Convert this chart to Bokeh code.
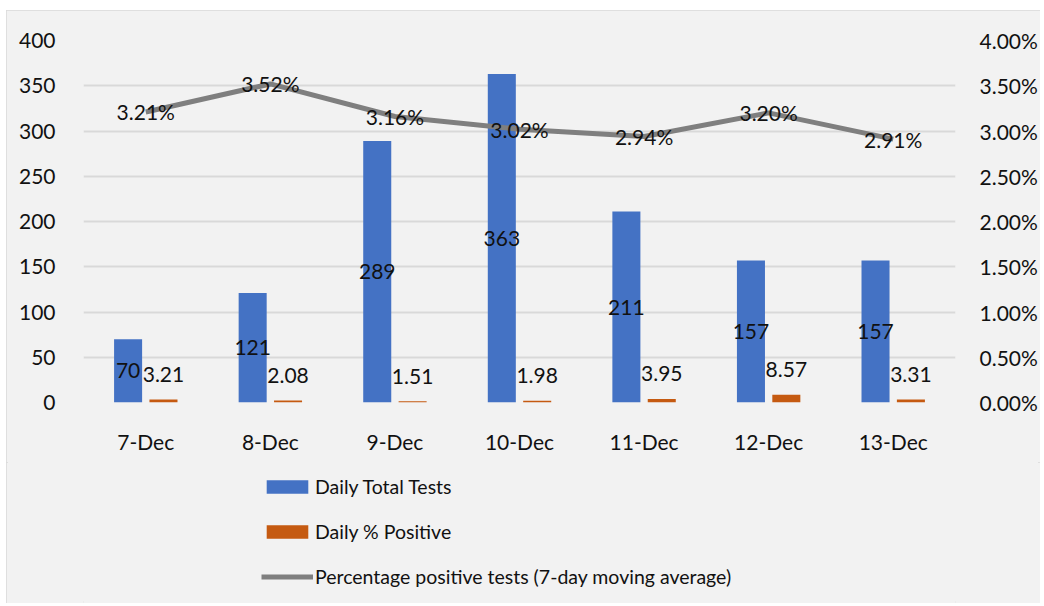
from bokeh.plotting import figure
from bokeh.layouts import column
from bokeh.models import (ColumnDataSource, FactorRange, Range1d, LinearAxis, FixedTicker,
                          PrintfTickFormatter, Legend, LegendItem, LabelSet)
from bokeh.transform import dodge
from bokeh.embed import file_html
from bokeh.resources import INLINE
from bokeh.core.properties import value

dates = ["7-Dec", "8-Dec", "9-Dec", "10-Dec", "11-Dec", "12-Dec", "13-Dec"]
daily_total_tests = [70, 121, 289, 363, 211, 157, 157]
daily_pct_positive = [3.21, 2.08, 1.51, 1.98, 3.95, 8.57, 3.31]
moving_avg_pct = [3.21, 3.52, 3.16, 3.02, 2.94, 3.20, 2.91]
left_ticks = [0, 50, 100, 150, 200, 250, 300, 350, 400]
right_ticks = [0.0, 0.5, 1.0, 1.5, 2.0, 2.5, 3.0, 3.5, 4.0]
series_names = ["Daily Total Tests", "Daily % Positive",
                "Percentage positive tests (7-day moving average)"]

FONT = "Lato"
FS = "21px"
TXT = "#111111"
BG = "#F2F2F2"
BLUE, ORANGE, GREY = "#4472C4", "#C55A11", "#7F7F7F"

src = ColumnDataSource(dict(
    date=dates,
    tests=daily_total_tests,
    tests_mid=[v / 2 for v in daily_total_tests],
    tests_lbl=[str(v) for v in daily_total_tests],
    pos=daily_pct_positive,
    pos_lbl=["%.2f" % v for v in daily_pct_positive],
    avg=moving_avg_pct,
    avg_lbl=["%.2f%%" % v for v in moving_avg_pct],
))

W = 1034
p = figure(width=W, height=452, x_range=FactorRange(*dates, range_padding=0),
           y_range=Range1d(0, 400), output_backend="svg", toolbar_location=None,
           min_border_left=77, min_border_right=85, min_border_top=30, min_border_bottom=60)
p.background_fill_color = BG
p.border_fill_color = BG
p.outline_line_color = None
p.extra_y_ranges = {"pct": Range1d(0, 4)}

p.xgrid.grid_line_color = None
p.ygrid.grid_line_color = "#D9D9D9"
p.ygrid.grid_line_width = 2
p.yaxis.ticker = FixedTicker(ticks=left_ticks)

r_axis = LinearAxis(y_range_name="pct", ticker=FixedTicker(ticks=right_ticks),
                    formatter=PrintfTickFormatter(format="%.2f%%"))
p.add_layout(r_axis, "right")

for ax in [p.xaxis[0], p.yaxis[0], r_axis]:
    ax.axis_line_color = None
    ax.major_tick_line_color = None
    ax.minor_tick_line_color = None
    ax.major_label_text_font = FONT
    ax.major_label_text_font_size = FS
    ax.major_label_text_color = TXT
p.yaxis[0].major_label_standoff = 22
r_axis.major_label_standoff = 18
p.xaxis[0].major_label_standoff = 20

p.vbar(x=dodge("date", -0.142, range=p.x_range), top="tests", width=0.225,
       source=src, fill_color=BLUE, line_color=None)
p.vbar(x=dodge("date", 0.142, range=p.x_range), top="pos", width=0.225,
       source=src, fill_color=ORANGE, line_color=None)
p.line(x="date", y="avg", source=src, y_range_name="pct", line_color=GREY, line_width=5)

lbl_kw = dict(source=src, text_font=value(FONT), text_font_size=value(FS), text_color=TXT,
              text_align="center", text_baseline="middle")
p.add_layout(LabelSet(x=dodge("date", -0.142, range=p.x_range), y="tests_mid",
                      text="tests_lbl", **lbl_kw))
p.add_layout(LabelSet(x=dodge("date", 0.142, range=p.x_range), y="pos",
                      text="pos_lbl", y_offset=25, **lbl_kw))
p.add_layout(LabelSet(x="date", y="avg", text="avg_lbl", y_range_name="pct", **lbl_kw))

# legend area beneath the chart (same series as hidden renderers, only their keys show)
q = figure(width=W, height=141, x_range=FactorRange(*dates, range_padding=0),
           y_range=Range1d(-2, -1), output_backend="svg", toolbar_location=None,
           x_axis_type=None, y_axis_type=None, min_border=0)
q.background_fill_color = BG
q.border_fill_color = BG
q.outline_line_color = None
q.grid.visible = False
lb1 = q.vbar(x="date", top="tests", width=0.225, source=src, fill_color=BLUE,
             line_color=None, visible=False)
lb2 = q.vbar(x="date", top="pos", width=0.225, source=src, fill_color=ORANGE,
             line_color=None, visible=False)
ll = q.line(x="date", y="avg", source=src, line_color=GREY, line_width=5, visible=False)

legend = Legend(items=[LegendItem(label=n, renderers=[r])
                       for n, r in zip(series_names, [lb1, lb2, ll])],
                location=(178, 15), orientation="vertical")
legend.background_fill_alpha = 0
legend.border_line_color = None
legend.inactive_fill_alpha = 0
legend.padding = 0
legend.margin = 0
legend.glyph_width = 52
legend.glyph_height = 17
legend.label_height = 20
legend.spacing = 22
legend.label_standoff = 2
legend.label_text_font = FONT
legend.label_text_font_size = "19.5px"
legend.label_text_color = TXT
q.add_layout(legend, "center")

layout = column(p, q, spacing=0)
layout.styles = {"margin-left": "6px", "margin-top": "10px", "background-color": BG,
                 "outline": "2px solid #D9D9D9", "outline-offset": "-2px"}

open("out.html", "w").write(file_html(layout, INLINE))
